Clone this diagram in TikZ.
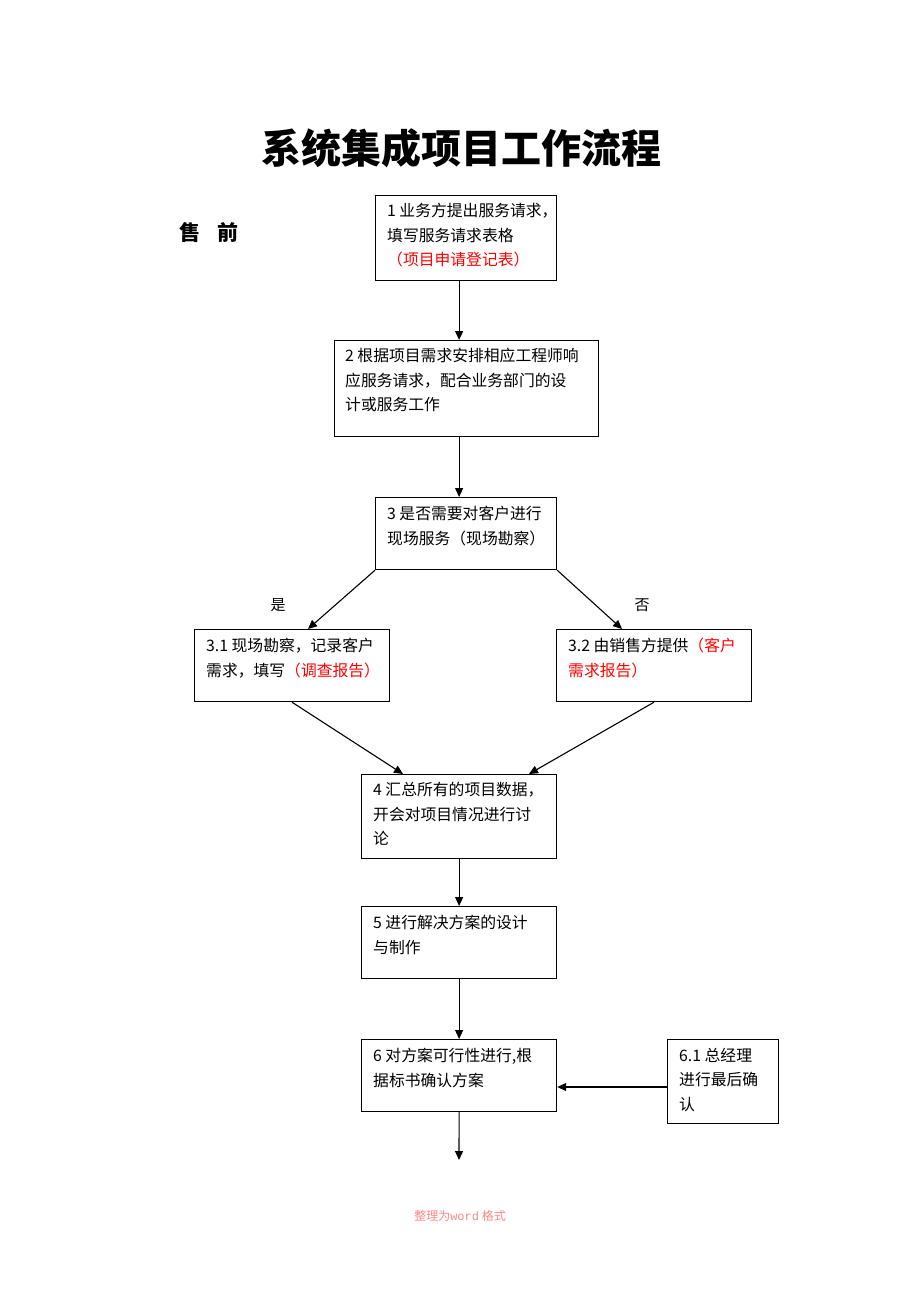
\documentclass[tikz,border=0pt]{standalone}
\usepackage{fontspec}
\setmainfont{Noto Sans CJK SC}
\newfontfamily\wmmono{Liberation Mono}
\usetikzlibrary{arrows.meta,calc}
\definecolor{redtxt}{RGB}{255,0,0}
\definecolor{wmcol}{RGB}{255,135,135}
\tikzset{
  box/.style={draw, line width=1.2pt, anchor=north west, inner sep=0pt},
  txt/.style={anchor=north west, inner sep=0pt, align=left,
    font=\fontsize{15.8}{24.5}\selectfont},
  arr/.style={line width=1.1pt, -{Triangle[length=9pt,width=8pt]}},
  lbl/.style={font=\fontsize{15}{15}\selectfont}
}
\begin{document}
\begin{tikzpicture}[x=1pt,y=-1pt]
\useasboundingbox (0,0) rectangle (920,1302);
\fill[white] (0,0) rectangle (920,1302);
% title
\node[font=\fontsize{40}{40}\selectfont\bfseries] (title) at (461,148) {系统集成项目工作流程};
\node[font=\fontsize{21}{21}\selectfont\bfseries] (shouqian) at (209,232) {售\hspace{18pt}前};
% boxes
\node[box, minimum width=181, minimum height=85] (b1) at (375,195) {};
\node[txt] (t1) at ([xshift=12,yshift=-8]b1.north west) {1 业务方提出服务请求，\\填写服务请求表格\\\textcolor{redtxt}{（项目申请登记表）}};
\node[box, minimum width=264, minimum height=96] (b2) at (334,340) {};
\node[txt] (t2) at ([xshift=11,yshift=-8]b2.north west) {2 根据项目需求安排相应工程师响\\应服务请求，配合业务部门的设\\计或服务工作};
\node[box, minimum width=181, minimum height=72] (b3) at (375,497) {};
\node[txt] (t3) at ([xshift=12,yshift=-9]b3.north west) {3 是否需要对客户进行\\现场服务（现场勘察）};
\node[box, minimum width=195, minimum height=72] (b31) at (194,629) {};
\node[txt] (t31) at ([xshift=12,yshift=-9]b31.north west) {3.1 现场勘察，记录客户\\需求，填写\textcolor{redtxt}{（调查报告）}};
\node[box, minimum width=195, minimum height=72] (b32) at (556,629) {};
\node[txt] (t32) at ([xshift=12,yshift=-9]b32.north west) {3.2 由销售方提供\textcolor{redtxt}{（客户}\\\textcolor{redtxt}{需求报告）}};
\node[box, minimum width=195, minimum height=84] (b4) at (361,774) {};
\node[txt] (t4) at ([xshift=12,yshift=-8]b4.north west) {4 汇总所有的项目数据，\\开会对项目情况进行讨\\论};
\node[box, minimum width=195, minimum height=72] (b5) at (361,906) {};
\node[txt] (t5) at ([xshift=12,yshift=-9]b5.north west) {5 进行解决方案的设计\\与制作};
\node[box, minimum width=195, minimum height=72] (b6) at (361,1039) {};
\node[txt] (t6) at ([xshift=12,yshift=-9]b6.north west) {6 对方案可行性进行,根\\据标书确认方案};
\node[box, minimum width=111, minimum height=84] (b61) at (667,1039) {};
\node[txt] (t61) at ([xshift=12,yshift=-9]b61.north west) {6.1 总经理\\进行最后确\\认};
\coordinate (end6) at (459,1160);
% labels
\node[lbl] (yes) at (278,605) {是};
\node[lbl] (no) at (642,605) {否};
% connectors
\draw[arr] (b1.south -| b5.north) -- (b2.north -| b5.north);
\draw[arr] (b2.south -| b5.north) -- (b3.north -| b5.north);
\draw[arr] (b3.south west) -- ([xshift=114]b31.north west);
\draw[arr] (b3.south east) -- ([xshift=66]b32.north west);
\draw[arr] ([xshift=98]b31.south west) -- ([xshift=42]b4.north west);
\draw[arr] ([xshift=98]b32.south west) -- ([xshift=168]b4.north west);
\draw[arr] (b4.south) -- (b5.north);
\draw[arr] (b5.south) -- (b6.north);
\draw[arr] (b6.south) -- (end6);
\draw[arr] ([yshift=-48]b61.north west) -- ([yshift=-48]b6.north east);
% watermark
\node[text=wmcol, font=\fontsize{12}{12}\selectfont] (wm) at (460,1216) {整理为{\wmmono word} 格式};
\end{tikzpicture}
\end{document}
